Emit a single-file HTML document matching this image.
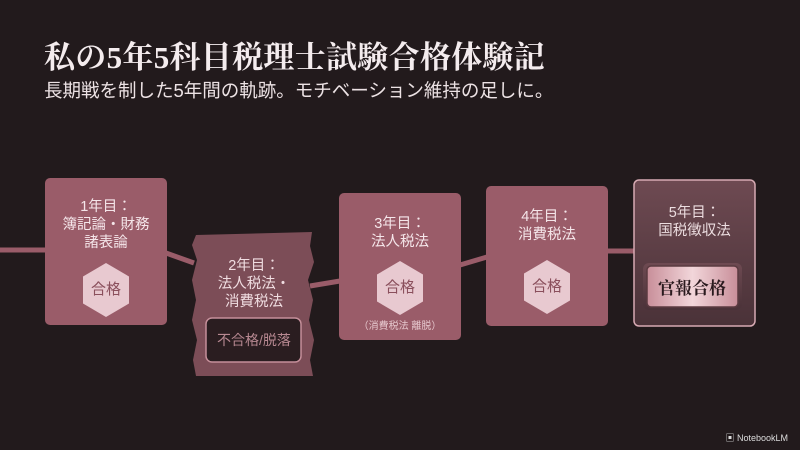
<!DOCTYPE html>
<html><head><meta charset="utf-8"><style>
body{margin:0;width:800px;height:450px;background:#221a1c;overflow:hidden;position:relative;font-family:"Liberation Sans","Noto Sans CJK JP",sans-serif;color:#f0dde1}
.t{position:absolute;left:44px;top:32px;font-family:"Liberation Serif","Noto Serif CJK SC",serif;font-weight:bold;font-size:31px;color:#f4ecee;letter-spacing:0.3px}
.s{position:absolute;left:44px;top:77px;font-size:18.5px;color:#ece2e4}
.b{position:absolute;background:#9a5c69;border-radius:5px;text-align:center;font-size:14.5px;line-height:18px;color:#f5e6ea}
.hex{position:absolute;width:46px;height:54px;background:#e8c9d0;clip-path:polygon(50% 0,100% 25%,100% 75%,50% 100%,0 75%,0 25%);color:#8a4f5c;font-size:15px;line-height:54px;text-align:center}
.nm{position:absolute;right:12px;bottom:6px;font-size:9px;color:#ddd}
</style></head><body>
<div class="t">私の5年5科目税理士試験合格体験記</div>
<div class="s">長期戦を制した5年間の軌跡。モチベーション維持の足しに。</div>
<svg style="position:absolute;left:0;top:0" width="800" height="450">
<g stroke="#9a5c69" stroke-width="5" fill="none">
<line x1="0" y1="250" x2="46" y2="250"/>
<line x1="166" y1="253" x2="194" y2="263"/>
<line x1="310" y1="286" x2="340" y2="281"/>
<line x1="460" y1="265" x2="487" y2="257"/>
<line x1="607" y1="251" x2="634" y2="251"/>
</g>
<polygon points="196,235 312,232 310,246 314,262 308,280 313,300 309,320 314,340 310,360 313,376 196,376 193,360 197,340 192,320 196,300 192,280 197,260 192,245" fill="#7c4d57"/>
<rect x="206" y="318" width="95" height="44" rx="6" fill="#2a1d20" stroke="#c58f9a" stroke-width="1.5"/>
<defs><linearGradient id="g5" x1="0" y1="0" x2="0" y2="1"><stop offset="0" stop-color="#6e4a52"/><stop offset="1" stop-color="#4a3238"/></linearGradient>
<linearGradient id="gb" x1="0" y1="0" x2="1" y2="0"><stop offset="0" stop-color="#c88e99"/><stop offset="0.5" stop-color="#f2d6da"/><stop offset="1" stop-color="#c88e99"/></linearGradient></defs>
<rect x="634" y="180" width="121" height="146" rx="5" fill="url(#g5)" stroke="#d7aab3" stroke-width="1.5"/>
<rect x="643" y="263" width="99" height="47" rx="6" fill="url(#g5)"/>
<rect x="647" y="266" width="91" height="41" rx="4" fill="url(#gb)" stroke="#5a3a40" stroke-width="1.5"/>
<text x="692" y="294" text-anchor="middle" font-family="Liberation Serif,Noto Serif CJK SC,serif" font-weight="bold" font-size="17" fill="#2a1a1e">官報合格</text>
<text x="254" y="345" text-anchor="middle" font-size="14" fill="#b78891" font-family="Liberation Sans,Noto Sans CJK JP,sans-serif">不合格/脱落</text>
</svg>
<div class="b" style="left:45px;top:178px;width:122px;height:147px"><div style="margin-top:20px">1年目：<br>簿記論・財務<br>諸表論</div><div class="hex" style="left:38px;top:85px">合格</div></div>
<div style="position:absolute;left:196px;top:257px;width:116px;text-align:center;font-size:14.5px;line-height:18px;color:#f0dde1">2年目：<br>法人税法・<br>消費税法</div>
<div class="b" style="left:339px;top:193px;width:122px;height:147px"><div style="margin-top:22px">3年目：<br>法人税法</div><div class="hex" style="left:38px;top:68px">合格</div><div style="position:absolute;top:125px;width:100%;font-size:10px;color:#e6c8ce">（消費税法 離脱）</div></div>
<div class="b" style="left:486px;top:186px;width:122px;height:140px"><div style="margin-top:22px">4年目：<br>消費税法</div><div class="hex" style="left:38px;top:74px">合格</div></div>
<div style="position:absolute;left:634px;top:204px;width:121px;text-align:center;font-size:14.5px;line-height:18px;color:#ecdde0">5年目：<br>国税徴収法</div>
<div class="nm">▣ NotebookLM</div>
</body></html>
